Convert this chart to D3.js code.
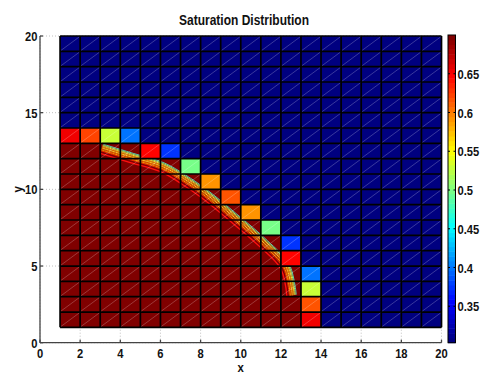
<!DOCTYPE html>
<html>
<head>
<meta charset="utf-8">
<script src="https://cdn.jsdelivr.net/npm/d3@7"></script>
<style>
  body { margin: 0; background: #fff; }
  text { font-family: "Liberation Sans", Arial, sans-serif; font-weight: bold; fill: #111; }
</style>
</head>
<body>
<svg id="chart" width="484" height="374"></svg>
<script>
// ---- data -------------------------------------------------------------
// 19 x 19 grid of cells between integer nodes 1..20
const nCells = 19;
const swMax = 0.70;     // fully flooded cells
const swMin = 0.308;    // initial water saturation
// per row (y = 1..19): number of fully flooded cells counted from x = 1
const saturatedCount = [12, 12, 12, 12, 11, 11, 10, 9, 8, 7, 6, 4, 0, 0, 0, 0, 0, 0, 0];
// per row: saturations of the transition cells just ahead of the flooded zone
const frontValues = [
  [0.655], [0.615], [0.53], [0.40], [0.645], [0.376], [0.50], [0.59],
  [0.616], [0.592], [0.50], [0.645, 0.372], [0.655, 0.62, 0.53, 0.40],
  [], [], [], [], [], []
];
// displacement front (sub-cell interface)
const frontX = [3.0, 4.5, 6.0, 7.0, 8.0, 9.5, 11.0, 12.0, 12.3];
const frontY = [12.35, 11.75, 11.15, 10.4, 9.5, 7.9, 6.2, 4.8, 3.0];

const xTicks = [0, 2, 4, 6, 8, 10, 12, 14, 16, 18, 20];
const yTicks = [0, 5, 10, 15, 20];
const cbTicks = [0.35, 0.4, 0.45, 0.5, 0.55, 0.6, 0.65];
const colorLimits = [0.303, 0.70];

// ---- helpers ----------------------------------------------------------
function jet(t) {
  t = Math.max(0, Math.min(1, t));
  const c = v => Math.round(255 * Math.max(0, Math.min(1, v)));
  const r = Math.min(4 * t - 1.5, -4 * t + 4.5);
  const g = Math.min(4 * t - 0.5, -4 * t + 3.5);
  const b = Math.min(4 * t + 0.5, -4 * t + 2.5);
  return `rgb(${c(r)},${c(g)},${c(b)})`;
}
// 64-entry colormap lookup
const cmap = d3.scaleQuantize().domain(colorLimits)
  .range(d3.range(64).map(i => jet(i / 63)));

const svg = d3.select("#chart");
const x = d3.scaleLinear().domain([0, 20]).range([40, 441.5]);
const y = d3.scaleLinear().domain([0, 20]).range([342.7, 36]);

// condensed text: scale horizontally about the anchor point
function label(g, str, px, py, anchor, size, sx) {
  return g.append("text")
    .attr("transform", `translate(${px},${py}) scale(${sx},1)`)
    .attr("text-anchor", anchor)
    .attr("font-size", size)
    .text(str);
}

// ---- grid (dotted) ----------------------------------------------------
const grid = svg.append("g").attr("stroke", "#b0b0b0").attr("stroke-width", 0.8)
  .attr("stroke-dasharray", "1,2");
grid.selectAll(".gx").data(xTicks).join("line")
  .attr("x1", d => x(d)).attr("x2", d => x(d)).attr("y1", y(0)).attr("y2", y(20));
grid.selectAll(".gy").data(yTicks).join("line")
  .attr("x1", x(0)).attr("x2", x(20)).attr("y1", d => y(d)).attr("y2", d => y(d));

// ---- cells ------------------------------------------------------------
const cells = [];
for (let r = 0; r < nCells; r++) {
  for (let c = 0; c < nCells; c++) {
    const k = c - saturatedCount[r];
    const v = k < 0 ? swMax : (k < frontValues[r].length ? frontValues[r][k] : swMin);
    cells.push({ x0: c + 1, y0: r + 1, v });
  }
}
svg.append("g").selectAll("rect").data(cells).join("rect")
  .attr("x", d => x(d.x0)).attr("y", d => y(d.y0 + 1))
  .attr("width", d => x(d.x0 + 1) - x(d.x0))
  .attr("height", d => y(d.y0) - y(d.y0 + 1))
  .attr("fill", d => cmap(d.v));

// ---- interpolated front band -----------------------------------------
const defs = svg.append("defs");
defs.append("clipPath").attr("id", "flooded").selectAll("rect")
  .data(cells.filter(d => d.v === swMax)).join("rect")
  .attr("x", d => x(d.x0)).attr("y", d => y(d.y0 + 1))
  .attr("width", d => x(d.x0 + 1) - x(d.x0))
  .attr("height", d => y(d.y0) - y(d.y0 + 1));

const pts = frontX.map((d, i) => [x(d), y(frontY[i])]);
const segN = d3.range(pts.length - 1).map(i => {
  const dx = pts[i + 1][0] - pts[i][0], dy = pts[i + 1][1] - pts[i][1];
  const L = Math.hypot(dx, dy);
  return [dy / L, -dx / L];
});
const vN = pts.map((p, i) => {
  const a = segN[Math.max(0, i - 1)], b = segN[Math.min(segN.length - 1, i)];
  const nx = a[0] + b[0], ny = a[1] + b[1], L = Math.hypot(nx, ny);
  return [nx / L, ny / L];
});
const offset = k => pts.map((p, i) => [p[0] + vN[i][0] * k, p[1] + vN[i][1] * k]);
const line = d3.line().curve(d3.curveCatmullRom.alpha(0.5));

const stripeColors = ["#ff3000", "#ffb000", "#ff6000", "#ffee30", "#ff9000",
                      "#f0f040", "#b0ff60", "#50e0c0"];
const band = svg.append("g").attr("clip-path", "url(#flooded)").attr("fill", "none");
stripeColors.forEach((col, i) => {
  band.append("path").attr("d", line(offset(2.6 + i * 1.0)))
    .attr("stroke", col).attr("stroke-width", 0.9);
});
band.append("path").attr("d", line(pts)).attr("stroke", "#ff1010").attr("stroke-width", 1.3);

// ---- cell edges and diagonals ----------------------------------------
const edges = svg.append("g").attr("stroke", "#000").attr("stroke-width", 1.7);
const nodes = d3.range(1, nCells + 2);
edges.selectAll(".h").data(nodes).join("line")
  .attr("x1", x(1)).attr("x2", x(20)).attr("y1", d => y(d)).attr("y2", d => y(d));
edges.selectAll(".v").data(nodes).join("line")
  .attr("x1", d => x(d)).attr("x2", d => x(d)).attr("y1", y(1)).attr("y2", y(20));
svg.append("g").attr("stroke", "rgba(255,255,255,0.38)").attr("stroke-width", 0.6)
  .selectAll("line").data(cells).join("line")
  .attr("x1", d => x(d.x0) + 1).attr("y1", d => y(d.y0) - 1)
  .attr("x2", d => x(d.x0 + 1) - 1).attr("y2", d => y(d.y0 + 1) + 1);

// ---- axes -------------------------------------------------------------
const ax = svg.append("g").attr("stroke", "#444").attr("stroke-width", 1.3);
ax.append("line").attr("x1", x(0)).attr("x2", x(0)).attr("y1", y(0)).attr("y2", y(20));
ax.append("line").attr("x1", x(0)).attr("x2", x(20)).attr("y1", y(0)).attr("y2", y(0));
ax.selectAll(".tx").data(xTicks).join("line")
  .attr("x1", d => x(d)).attr("x2", d => x(d)).attr("y1", y(0)).attr("y2", y(0) - 3);
ax.selectAll(".ty").data(yTicks).join("line")
  .attr("x1", x(0)).attr("x2", x(0) + 3).attr("y1", d => y(d)).attr("y2", d => y(d));

const labels = svg.append("g");
xTicks.forEach(t => label(labels, t, x(t), 357.5, "middle", 13, 0.86));
yTicks.forEach(t => label(labels, t, 37.5, y(t) + 5, "end", 13, 0.86));
label(labels, "x", x(10), 371.5, "middle", 12, 0.95);
labels.append("text")
  .attr("transform", `translate(22,${y(10)}) rotate(-90) scale(0.95,1)`)
  .attr("text-anchor", "middle").attr("font-size", 12).text("y");
label(labels, "Saturation Distribution", 244, 24.5, "middle", 15, 0.8);

// ---- colorbar ---------------------------------------------------------
const cb = svg.append("g");
const cbX = 448, cbW = 7.5;
const cy = d3.scaleLinear().domain(colorLimits).range([y(0), y(20) - 1]);
const slices = d3.range(64);
const step = (colorLimits[1] - colorLimits[0]) / 64;
cb.selectAll("rect").data(slices).join("rect")
  .attr("x", cbX).attr("width", cbW)
  .attr("y", i => cy(colorLimits[0] + (i + 1) * step))
  .attr("height", i => cy(colorLimits[0] + i * step) - cy(colorLimits[0] + (i + 1) * step) + 0.5)
  .attr("fill", i => jet(i / 63));
cb.append("rect").attr("x", cbX).attr("y", cy(colorLimits[1])).attr("width", cbW)
  .attr("height", cy(colorLimits[0]) - cy(colorLimits[1]))
  .attr("fill", "none").attr("stroke", "#000").attr("stroke-width", 1);
cb.selectAll(".tl").data(cbTicks).join("line")
  .attr("x1", cbX).attr("x2", cbX + 2).attr("y1", d => cy(d)).attr("y2", d => cy(d))
  .attr("stroke", "#000");
cb.selectAll(".tr").data(cbTicks).join("line")
  .attr("x1", cbX + cbW - 2).attr("x2", cbX + cbW).attr("y1", d => cy(d)).attr("y2", d => cy(d))
  .attr("stroke", "#000");
cbTicks.forEach(t => label(cb, String(t), cbX + cbW + 2, cy(t) + 5, "start", 13, 0.86));
</script>
</body>
</html>
